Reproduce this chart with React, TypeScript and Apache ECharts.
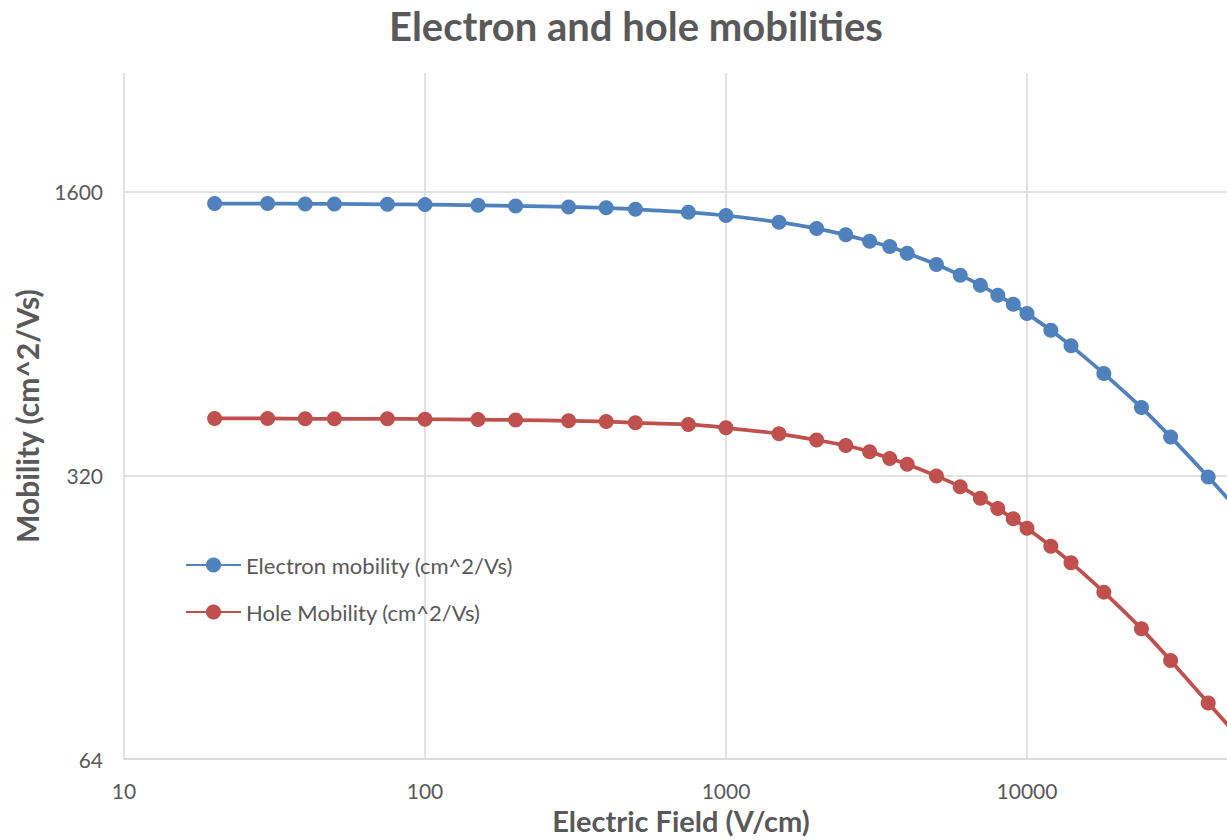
import React, { useEffect, useRef } from 'react';
import * as echarts from 'echarts';

// Electric field sample points (V/cm)
const fieldVcm = [
  20, 30, 40, 50, 75, 100, 150, 200, 300, 400, 500, 750, 1000, 1500, 2000, 2500,
  3000, 3500, 4000, 5000, 6000, 7000, 8000, 9000, 10000, 12000, 14000, 18000,
  24000, 30000, 40000, 50000,
];

// Mobilities (cm^2/Vs) at each field value
const electronMobility = [
  1495, 1495, 1492, 1492, 1489, 1486, 1480, 1475, 1467, 1459, 1447, 1423, 1397,
  1345, 1297, 1252, 1207, 1172, 1128, 1058, 996, 941, 889, 845, 801, 729, 667,
  570, 470, 398, 317, 264,
];
const holeMobility = [
  442, 442, 441, 441, 441, 440, 439, 438, 436, 434, 431, 427, 419, 405, 391, 379,
  366, 352, 341, 319, 300, 281, 265, 250, 237, 214, 195, 165, 134, 112, 88, 73,
];

const seriesNames = ['Electron mobility (cm^2/Vs)', 'Hole Mobility (cm^2/Vs)'];
const seriesColors = ['#4F81BD', '#C0504D'];

// Axis tick values
const xTicks = [10, 100, 1000, 10000];
const yTicks = [64, 320, 1600];

const textColor = '#595959';
const gridColor = '#D9D9D9';
const font = 'Lato';

export default function App() {
  const ref = useRef<HTMLDivElement>(null);

  useEffect(() => {
    if (!ref.current) return;
    const chart = echarts.init(ref.current, undefined, { renderer: 'svg' });

    const makeSeries = (idx: number, values: number[]) => ({
      name: seriesNames[idx],
      type: 'line',
      smooth: 0.25,
      symbol: 'circle',
      symbolSize: 15,
      clip: true,
      lineStyle: { width: 3.75, color: seriesColors[idx] },
      itemStyle: { color: seriesColors[idx] },
      data: fieldVcm.map((e, i) => [e, values[i]]),
    });

    const fmt = (v: number) => String(Math.round(v));

    chart.setOption({
      animation: false,
      backgroundColor: '#ffffff',
      textStyle: { fontFamily: font },
      title: {
        text: 'Electron and hole mobilities',
        left: 384,
        top: 1,
        textStyle: { fontFamily: font, fontSize: 40, fontWeight: 'bold', color: textColor },
      },
      legend: {
        orient: 'vertical',
        left: 180,
        top: 549,
        itemWidth: 55,
        itemHeight: 19,
        itemGap: 25,
        textStyle: { fontFamily: font, fontSize: 22, color: textColor },
        data: seriesNames,
      },
      grid: { left: 124, right: 0, top: 73, bottom: 80, containLabel: false },
      xAxis: {
        type: 'log',
        logBase: 10,
        min: 10,
        max: 46180,
        name: 'Electric Field (V/cm)',
        nameLocation: 'middle',
        nameGap: 45,
        nameTextStyle: {
          fontFamily: font,
          fontSize: 29,
          fontWeight: 'bold',
          color: textColor,
          padding: [0, 0, 0, 11],
        },
        axisLine: { show: true, lineStyle: { color: gridColor, width: 1.5 } },
        axisTick: { show: false, customValues: xTicks },
        axisLabel: { customValues: xTicks, formatter: fmt, fontSize: 21, color: textColor, margin: 21 },
        splitLine: { show: true, lineStyle: { color: gridColor, width: 1.5 } },
      },
      yAxis: {
        type: 'log',
        logBase: 5,
        min: 64,
        max: 3135,
        name: 'Mobility (cm^2/Vs)',
        nameLocation: 'middle',
        nameGap: 82,
        nameTextStyle: { fontFamily: font, fontSize: 30, fontWeight: 'bold', color: textColor },
        axisLine: { show: false },
        axisTick: { show: false, customValues: yTicks },
        axisLabel: { customValues: yTicks, formatter: fmt, fontSize: 21, color: textColor, margin: 21 },
        splitLine: { show: true, lineStyle: { color: gridColor, width: 1.5 } },
      },
      series: [makeSeries(0, electronMobility), makeSeries(1, holeMobility)],
    });

    return () => chart.dispose();
  }, []);

  return (
    <div
      ref={ref}
      style={{ position: 'fixed', left: 0, top: 0, width: 1227, height: 840, background: '#fff' }}
    />
  );
}
